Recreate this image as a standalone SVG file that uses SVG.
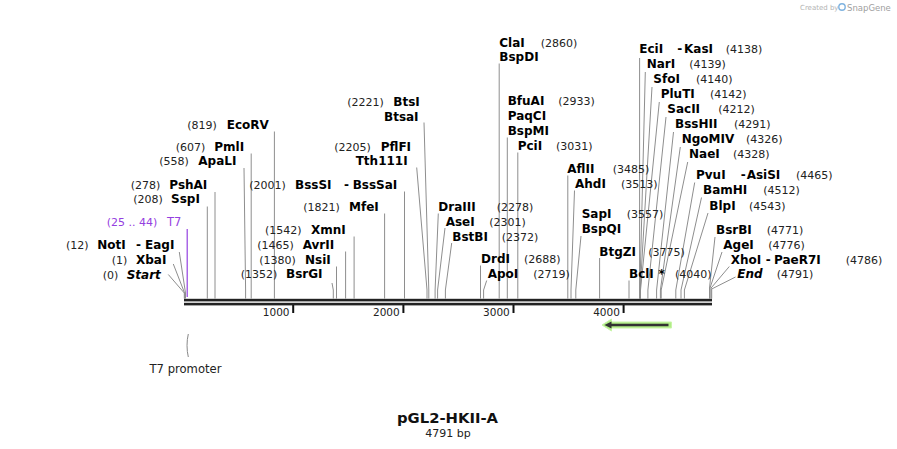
<svg xmlns="http://www.w3.org/2000/svg" width="897" height="449" viewBox="0 0 897 449">
<style>
text{font-family:"DejaVu Sans",Verdana,sans-serif}
.n{font-size:11px;fill:#222}
.b{font-size:12px;font-weight:bold;fill:#000}
.bi{font-size:12px;font-weight:bold;font-style:italic;fill:#000}
.p{font-size:11px;fill:#9440e0}
.c{stroke:#8e8e8e;stroke-width:1;fill:none}
.tk{font-size:10.5px;fill:#222}
</style>
<rect width="897" height="449" fill="#fff"/>
<g id="watermark">
<text x="800" y="10" style="font-size:7px;fill:#b4b4b4">Created by</text>
<circle cx="842" cy="7" r="3.2" fill="none" stroke="#7fb3e0" stroke-width="1.4"/>
<text x="847" y="10.5" style="font-size:8.5px;fill:#a0a0a0">SnapGene</text>
</g>
<g id="connectors">
<polyline class="c" points="168.3,274.5 184.3,293 184.3,298.5"/>
<polyline class="c" points="173.3,264 184.6,293 184.6,298.5"/>
<polyline class="c" points="179.3,252 185.5,293 185.5,298.5"/>
<line x1="187.2" y1="229" x2="187.2" y2="297" stroke="#9440e0" stroke-width="1.2"/>
<line class="c" x1="207.3" y1="206.5" x2="207.3" y2="298.5"/>
<line class="c" x1="215" y1="192" x2="215" y2="298.5"/>
<polyline class="c" points="244,168 245.6,290 245.6,298.5"/>
<line class="c" x1="251.2" y1="153.5" x2="251.2" y2="298.5"/>
<line class="c" x1="274.4" y1="131.5" x2="274.4" y2="298.5"/>
<polyline class="c" points="332,283 333.3,290 333.3,298.5"/>
<line class="c" x1="336.5" y1="266.5" x2="336.5" y2="298.5"/>
<line class="c" x1="345.6" y1="251.5" x2="345.6" y2="298.5"/>
<line class="c" x1="354.1" y1="236.5" x2="354.1" y2="298.5"/>
<line class="c" x1="384.6" y1="213.5" x2="384.6" y2="298.5"/>
<line class="c" x1="404.5" y1="191.5" x2="404.5" y2="298.5"/>
<polyline class="c" points="416.7,167.5 427,290 427,298.5"/>
<polyline class="c" points="424,122.5 428.8,290 428.8,298.5"/>
<polyline class="c" points="438.3,213.5 435.1,290 435.1,298.5"/>
<polyline class="c" points="445,228 437.6,290 437.6,298.5"/>
<polyline class="c" points="451.7,243 445.4,290 445.4,298.5"/>
<line class="c" x1="480.5" y1="265.5" x2="480.5" y2="298.5"/>
<polyline class="c" points="486.7,280.5 483.6,290 483.6,298.5"/>
<line class="c" x1="499.2" y1="63.5" x2="499.2" y2="298.5"/>
<line class="c" x1="507.3" y1="137.5" x2="507.3" y2="298.5"/>
<line class="c" x1="517.8" y1="152.5" x2="517.8" y2="298.5"/>
<line class="c" x1="567.8" y1="175.5" x2="567.8" y2="298.5"/>
<polyline class="c" points="574.5,190.5 571,290 571,298.5"/>
<polyline class="c" points="581,236 575.8,290 575.8,298.5"/>
<line class="c" x1="599.6" y1="258" x2="599.6" y2="298.5"/>
<line class="c" x1="629" y1="280.5" x2="629" y2="298.5"/>
<line class="c" x1="639.6" y1="58" x2="639.6" y2="298.5"/>
<polyline class="c" points="645.3,72 639.9,290 639.9,298.5"/>
<polyline class="c" points="652,87 640.2,290 640.2,298.5"/>
<polyline class="c" points="659.3,102 640.5,290 640.5,298.5"/>
<polyline class="c" points="666,117 647.9,290 647.9,298.5"/>
<polyline class="c" points="673.5,132 656.6,290 656.6,298.5"/>
<polyline class="c" points="680.3,147 660.4,290 660.4,298.5"/>
<polyline class="c" points="687.7,162 661.2,290 661.2,298.5"/>
<polyline class="c" points="694.7,182.5 675.8,290 675.8,298.5"/>
<polyline class="c" points="701.5,197.5 681,290 681,298.5"/>
<polyline class="c" points="708,213 684.4,290 684.4,298.5"/>
<polyline class="c" points="715,237 709.5,288 709.5,298.5"/>
<polyline class="c" points="722,252 710,288 710,298.5"/>
<polyline class="c" points="729.3,266.5 711.1,288 711.1,298.5"/>
<polyline class="c" points="735.5,277 711.7,289 711.7,298.5"/>
</g>
<g id="backbone">
<rect x="184" y="298.8" width="528" height="2.6" fill="#222"/>
<rect x="184" y="302.8" width="528" height="2.6" fill="#222"/>
<rect x="292.2" y="305" width="2" height="8" fill="#111"/>
<rect x="402.4" y="305" width="2" height="8" fill="#111"/>
<rect x="512.5" y="305" width="2" height="8" fill="#111"/>
<rect x="622.6" y="305" width="2" height="8" fill="#111"/>
<text class="tk" x="289.5" y="316" text-anchor="end">1000</text>
<text class="tk" x="399.7" y="316" text-anchor="end">2000</text>
<text class="tk" x="509.8" y="316" text-anchor="end">3000</text>
<text class="tk" x="619.9" y="316" text-anchor="end">4000</text>
</g>
<g id="feature-arrow">
<polygon points="602,325 611.5,319 611.5,322 671.5,322 671.5,328 611.5,328 611.5,331" fill="#b0ec86" stroke="#c8f5a8" stroke-width="1"/>
<line x1="609" y1="325" x2="668.5" y2="325" stroke="#333" stroke-width="2.4"/>
<polygon points="604.5,325 611.5,321.5 611.5,328.5" fill="#333"/>
</g>
<g id="T7-promoter">
<path d="M188.3,334 C186.6,341 186.6,350 188.3,357" fill="none" stroke="#888" stroke-width="1"/>
<text x="185.5" y="372.5" text-anchor="middle" style="font-size:11.6px;fill:#222">T7 promoter</text>
</g>
<g id="site-Start"><text y="278.5"><tspan class="n" x="102.7">(0)</tspan><tspan class="bi" x="126.7">Start</tspan></text></g>
<g id="site-XbaI"><text y="264"><tspan class="n" x="111.7">(1)</tspan><tspan class="b" x="136">XbaI</tspan></text></g>
<g id="site-NotI"><text y="249"><tspan class="n" x="66">(12)</tspan><tspan class="b" x="97.3">NotI</tspan><tspan class="b" x="136">-</tspan><tspan class="b" x="145">EagI</tspan></text></g>
<g id="site-T7"><text y="225.7"><tspan class="p" x="106.7">(25 .. 44)</tspan><tspan class="p" x="167" style="font-size:11.5px">T7</tspan></text></g>
<g id="site-SspI"><text y="203.3"><tspan class="n" x="133.3">(208)</tspan><tspan class="b" x="171">SspI</tspan></text></g>
<g id="site-PshAI"><text y="188.7"><tspan class="n" x="130.7">(278)</tspan><tspan class="b" x="169.3">PshAI</tspan></text></g>
<g id="site-ApaLI"><text y="165.3"><tspan class="n" x="159.3">(558)</tspan><tspan class="b" x="198.3">ApaLI</tspan></text></g>
<g id="site-PmlI"><text y="150.7"><tspan class="n" x="175.7">(607)</tspan><tspan class="b" x="214.3">PmlI</tspan></text></g>
<g id="site-EcoRV"><text y="129"><tspan class="n" x="187.3">(819)</tspan><tspan class="b" x="226.7">EcoRV</tspan></text></g>
<g id="site-BsrGI"><text y="278.3"><tspan class="n" x="240.7">(1352)</tspan><tspan class="b" x="286">BsrGI</tspan></text></g>
<g id="site-NsiI"><text y="264"><tspan class="n" x="259.3">(1380)</tspan><tspan class="b" x="305">NsiI</tspan></text></g>
<g id="site-AvrII"><text y="249"><tspan class="n" x="257.3">(1465)</tspan><tspan class="b" x="302.7">AvrII</tspan></text></g>
<g id="site-XmnI"><text y="234"><tspan class="n" x="265">(1542)</tspan><tspan class="b" x="311">XmnI</tspan></text></g>
<g id="site-MfeI"><text y="210.7"><tspan class="n" x="303.3">(1821)</tspan><tspan class="b" x="349">MfeI</tspan></text></g>
<g id="site-BssSI"><text y="189"><tspan class="n" x="249.3">(2001)</tspan><tspan class="b" x="295">BssSI</tspan><tspan class="b" x="344">-</tspan><tspan class="b" x="352.7">BssSaI</tspan></text></g>
<g id="site-PflFI"><text y="150.7"><tspan class="n" x="334.3">(2205)</tspan><tspan class="b" x="380.7">PflFI</tspan></text><text class="b" x="355.7" y="165">Tth111I</text></g>
<g id="site-BtsI"><text y="106"><tspan class="n" x="347.3">(2221)</tspan><tspan class="b" x="393.3">BtsI</tspan></text><text class="b" x="384" y="120.7">BtsaI</text></g>
<g id="site-DraIII"><text y="211"><tspan class="b" x="438.3">DraIII</tspan><tspan class="n" x="496.7">(2278)</tspan></text></g>
<g id="site-AseI"><text y="226"><tspan class="b" x="445.7">AseI</tspan><tspan class="n" x="489.3">(2301)</tspan></text></g>
<g id="site-BstBI"><text y="241"><tspan class="b" x="452.3">BstBI</tspan><tspan class="n" x="501.7">(2372)</tspan></text></g>
<g id="site-DrdI"><text y="263"><tspan class="b" x="481">DrdI</tspan><tspan class="n" x="524">(2688)</tspan></text></g>
<g id="site-ApoI"><text y="278.3"><tspan class="b" x="487.7">ApoI</tspan><tspan class="n" x="533.3">(2719)</tspan></text></g>
<g id="site-ClaI"><text y="46.7"><tspan class="b" x="499.3">ClaI</tspan><tspan class="n" x="540.7">(2860)</tspan></text><text class="b" x="499.3" y="61">BspDI</text></g>
<g id="site-BfuAI"><text y="105"><tspan class="b" x="507.7">BfuAI</tspan><tspan class="n" x="558.3">(2933)</tspan></text><text class="b" x="507.7" y="120">PaqCI</text><text class="b" x="507.7" y="134.7">BspMI</text></g>
<g id="site-PciI"><text y="150"><tspan class="b" x="517.7">PciI</tspan><tspan class="n" x="556">(3031)</tspan></text></g>
<g id="site-AflII"><text y="173.3"><tspan class="b" x="567.3">AflII</tspan><tspan class="n" x="612.7">(3485)</tspan></text></g>
<g id="site-AhdI"><text y="188.3"><tspan class="b" x="575">AhdI</tspan><tspan class="n" x="621">(3513)</tspan></text></g>
<g id="site-SapI"><text y="218.3"><tspan class="b" x="581.7">SapI</tspan><tspan class="n" x="626.7">(3557)</tspan></text><text class="b" x="581.7" y="233.3">BspQI</text></g>
<g id="site-BtgZI"><text y="255.5"><tspan class="b" x="599.3">BtgZI</tspan><tspan class="n" x="648.3">(3775)</tspan></text></g>
<g id="site-BclI"><text y="278.3"><tspan class="b" x="629">BclI</tspan><tspan class="b" x="658.5">*</tspan><tspan class="n" x="675">(4040)</tspan></text></g>
<g id="site-EciI"><text y="53.3"><tspan class="b" x="639.3">EciI</tspan><tspan class="b" x="677.3">-</tspan><tspan class="b" x="684">KasI</tspan><tspan class="n" x="725.7">(4138)</tspan></text></g>
<g id="site-NarI"><text y="68.3"><tspan class="b" x="646.7">NarI</tspan><tspan class="n" x="689.3">(4139)</tspan></text></g>
<g id="site-SfoI"><text y="83.3"><tspan class="b" x="653.3">SfoI</tspan><tspan class="n" x="696">(4140)</tspan></text></g>
<g id="site-PluTI"><text y="98.3"><tspan class="b" x="660.7">PluTI</tspan><tspan class="n" x="710">(4142)</tspan></text></g>
<g id="site-SacII"><text y="113.3"><tspan class="b" x="667.3">SacII</tspan><tspan class="n" x="718.3">(4212)</tspan></text></g>
<g id="site-BssHII"><text y="128.3"><tspan class="b" x="675">BssHII</tspan><tspan class="n" x="734">(4291)</tspan></text></g>
<g id="site-NgoMIV"><text y="143.3"><tspan class="b" x="681.7">NgoMIV</tspan><tspan class="n" x="746">(4326)</tspan></text></g>
<g id="site-NaeI"><text y="158.3"><tspan class="b" x="689">NaeI</tspan><tspan class="n" x="733">(4328)</tspan></text></g>
<g id="site-PvuI"><text y="179"><tspan class="b" x="696">PvuI</tspan><tspan class="b" x="740.7">-</tspan><tspan class="b" x="746.7">AsiSI</tspan><tspan class="n" x="796">(4465)</tspan></text></g>
<g id="site-BamHI"><text y="194"><tspan class="b" x="703">BamHI</tspan><tspan class="n" x="763.3">(4512)</tspan></text></g>
<g id="site-BlpI"><text y="209.5"><tspan class="b" x="709.3">BlpI</tspan><tspan class="n" x="749">(4543)</tspan></text></g>
<g id="site-BsrBI"><text y="234"><tspan class="b" x="716">BsrBI</tspan><tspan class="n" x="766.7">(4771)</tspan></text></g>
<g id="site-AgeI"><text y="249"><tspan class="b" x="723.3">AgeI</tspan><tspan class="n" x="768.3">(4776)</tspan></text></g>
<g id="site-XhoI"><text y="263.5"><tspan class="b" x="730.7">XhoI</tspan><tspan class="b" x="765.7">-</tspan><tspan class="b" x="774">PaeR7I</tspan><tspan class="n" x="845.7">(4786)</tspan></text></g>
<g id="site-End"><text y="278.3"><tspan class="bi" x="737.3">End</tspan><tspan class="n" x="776.7">(4791)</tspan></text></g>
<g id="title">
<text x="447.5" y="423" text-anchor="middle" style="font-size:14.8px;font-weight:bold;fill:#111">pGL2-HKII-A</text>
<text x="448" y="437" text-anchor="middle" style="font-size:11px;fill:#222">4791 bp</text>
</g>
</svg>
